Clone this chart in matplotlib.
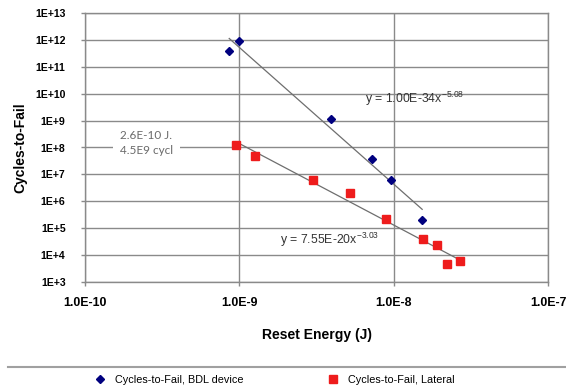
import numpy as np
import matplotlib
matplotlib.use("Agg")
import matplotlib.pyplot as plt
from matplotlib.lines import Line2D
from matplotlib.ticker import FuncFormatter, LogLocator, NullLocator

plt.rcParams["font.family"] = ["Liberation Sans", "DejaVu Sans"]
plt.rcParams["mathtext.default"] = "regular"

# ── data ─────────────────────────────
bdl_energy = [8.6e-10, 1.0e-9, 3.9e-9, 7.2e-9, 9.6e-9, 1.53e-8]
bdl_cycles = [4.0e11, 9.0e11, 1.1e9, 3.8e7, 6.0e6, 2.0e5]

lat_energy = [9.5e-10, 1.26e-9, 3.0e-9, 5.2e-9, 8.9e-9, 1.55e-8, 1.92e-8, 2.21e-8, 2.69e-8]
lat_cycles = [1.24e8, 4.7e7, 6.2e6, 2.1e6, 2.25e5, 3.9e4, 2.3e4, 4.5e3, 6.2e3]

# power-law fits  y = a * x^b
bdl_fit = (1.00e-34, -5.08)
lat_fit = (7.55e-20, -3.03)

bdl_label = "Cycles-to-Fail, BDL device"
lat_label = "Cycles-to-Fail, Lateral"

# ── figure ───────────────────────────
fig = plt.figure(figsize=(5.66, 3.89), dpi=100)
ax = fig.add_axes([85 / 566, 1 - 282 / 389, 463 / 566, 269 / 389])

ax.set_xscale("log")
ax.set_yscale("log")
ax.set_xlim(1e-10, 1e-7)
ax.set_ylim(1e3, 1e13)

ax.xaxis.set_major_locator(LogLocator(base=10, numticks=10))
ax.yaxis.set_major_locator(LogLocator(base=10, numticks=20))
ax.xaxis.set_minor_locator(NullLocator())
ax.yaxis.set_minor_locator(NullLocator())
ax.xaxis.set_major_formatter(FuncFormatter(lambda v, p: "1.0E%d" % round(np.log10(v))))
ax.yaxis.set_major_formatter(FuncFormatter(lambda v, p: "1E+%d" % round(np.log10(v))))

grid_col = "#8a8a8a"
ax.grid(True, which="major", color=grid_col, lw=1.0)
ax.set_axisbelow(True)
for s in ax.spines.values():
    s.set_color(grid_col)
    s.set_linewidth(1.0)
ax.tick_params(axis="both", colors=grid_col, length=3, width=1.0)
ax.tick_params(axis="y", pad=11, labelsize=7.6, labelcolor="black")
ax.tick_params(axis="x", pad=8, labelsize=8.9, labelcolor="black")
for lab in ax.get_xticklabels() + ax.get_yticklabels():
    lab.set_fontweight("bold")

# trend lines over each series' range
for xs, (a, b) in [(bdl_energy, bdl_fit), (lat_energy, lat_fit)]:
    xx = np.logspace(np.log10(min(xs)), np.log10(max(xs)), 50)
    ax.plot(xx, a * xx ** b, color="#6e6e6e", lw=0.9, zorder=2)

ax.plot(bdl_energy, bdl_cycles, "D", color="#00007f", ms=4.2, ls="none", zorder=3, label=bdl_label)
ax.plot(lat_energy, lat_cycles, "s", color="#ee1c1c", ms=5.2, ls="none", zorder=3, label=lat_label)

ax.text(6.5e-9, 6.3e9, r"y = 1.00E-34x$^{-5.08}$", fontsize=8.8, color="#333333",
        ha="left", va="center", zorder=4)
ax.text(1.84e-9, 3.6e4, r"y = 7.55E-20x$^{-3.03}$", fontsize=8.8, color="#333333",
        ha="left", va="center", zorder=4)

# note box
ax.text(2.5e-10, 1.5e8, "2.6E-10 J.\n4.5E9 cycl", fontsize=8.5, color="#6a6a6a",
        family=["Lato", "DejaVu Sans"], ha="center", va="center", linespacing=1.5,
        bbox=dict(facecolor="white", edgecolor="none", pad=5), zorder=4)

ax.set_xlabel("Reset Energy (J)", fontsize=10, fontweight="bold")
ax.set_ylabel("Cycles-to-Fail", fontsize=10, fontweight="bold")
ax.xaxis.set_label_coords(0.5, -0.17)
ax.yaxis.set_label_coords(-0.125, 0.5)

# legend under a separator line
fig.add_artist(Line2D([8 / 566, 1.0], [1 - 367 / 389] * 2, transform=fig.transFigure,
                      color="#a0a0a0", lw=1.5))
h, l = ax.get_legend_handles_labels()
fig.legend(h, l, loc="center left", bbox_to_anchor=(93 / 566, 1 - 380 / 389), ncol=2,
           frameon=False, fontsize=7.8, handlelength=1.2, handletextpad=0.8,
           columnspacing=7.7, borderpad=0, borderaxespad=0)

fig.savefig("out.png", dpi=100)
